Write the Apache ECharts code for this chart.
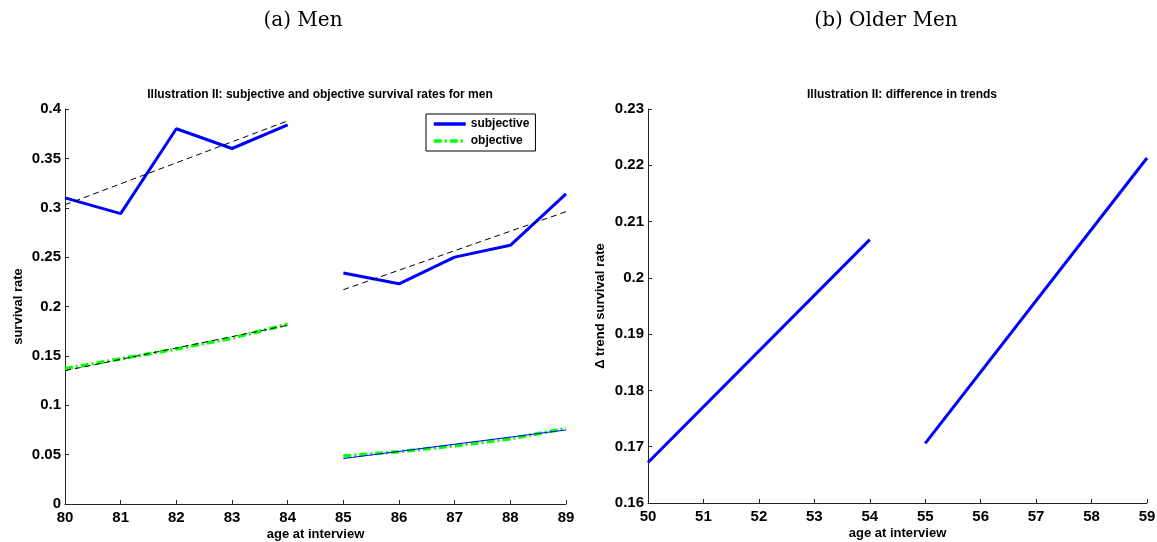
<!DOCTYPE html>
<html>
<head>
<meta charset="utf-8">
<script src="https://cdn.jsdelivr.net/npm/echarts@6/dist/echarts.min.js"></script>
<style>
  html, body { margin: 0; padding: 0; background: #fff; }
  #main { width: 1157px; height: 542px; }
</style>
</head>
<body>
<div id="main"></div>
<script>
// left panel: ages and rates
const agesA = [80, 81, 82, 83, 84];
const agesB = [85, 86, 87, 88, 89];
const subjA = [0.310, 0.294, 0.380, 0.360, 0.384];
const subjB = [0.234, 0.223, 0.250, 0.262, 0.314];
const objA = [0.137, 0.147, 0.157, 0.168, 0.182];
const objB = [0.0485, 0.053, 0.059, 0.066, 0.0765];
// fitted trends (endpoints)
const trendAgesA = [80, 84];
const trendAgesB = [85, 89];
const subjTrendA = [0.303, 0.388];
const subjTrendB = [0.217, 0.296];
const objTrendA = [0.135, 0.181];
const objTrendB = [0.046, 0.075];

// right panel: difference in trends
const diffAgesA = [50, 54];
const diffAgesB = [55, 59];
const diffA = [0.1672, 0.2068];
const diffB = [0.1706, 0.2213];

const pairs = (xs, ys) => xs.map((x, i) => [x, ys[i]]);

const font = 'Liberation Sans, Arial, sans-serif';
const axisCol = '#262626';

function xAxis(gridIndex, min, max) {
  return {
    type: 'value', gridIndex, min, max, interval: 1,
    name: 'age at interview', nameLocation: 'middle', nameGap: 24,
    nameMoveOverlap: false,
    nameTextStyle: { fontFamily: font, fontWeight: 'bold', fontSize: 13, color: '#000' },
    axisLine: { lineStyle: { color: axisCol } },
    axisTick: { inside: true, length: 4, lineStyle: { color: axisCol } },
    axisLabel: { fontFamily: font, fontWeight: 'bold', fontSize: 15, color: '#000', margin: 6 },
    splitLine: { show: false }
  };
}
function yAxis(gridIndex, min, max, interval, name, gap) {
  return {
    type: 'value', gridIndex, min, max, interval,
    name, nameLocation: 'middle', nameGap: gap,
    nameMoveOverlap: false,
    nameTextStyle: { fontFamily: font, fontWeight: 'bold', fontSize: 13, color: '#000' },
    axisLine: { show: true, lineStyle: { color: axisCol } },
    axisTick: { show: true, inside: true, length: 4, lineStyle: { color: axisCol } },
    axisLabel: { fontFamily: font, fontWeight: 'bold', fontSize: 15, color: '#000', margin: 4 },
    splitLine: { show: false }
  };
}

const blue = '#0000ff';
const green = '#00ff00';
const line = (name, xi, data, color, width, type, z) => ({
  name, type: 'line', xAxisIndex: xi, yAxisIndex: xi, data,
  symbol: 'none', silent: true, z: z || 2,
  lineStyle: { color, width, type: type || 'solid' },
  itemStyle: { color }
});

const chart = echarts.init(document.getElementById('main'), null, { renderer: 'canvas' });
chart.setOption({
  animation: false,
  backgroundColor: '#fff',
  title: [
    { text: '(a) Men', left: 298, top: 6, textAlign: 'center',
      textStyle: { fontFamily: 'DejaVu Serif, serif', fontWeight: 'normal', fontSize: 20, color: '#000' } },
    { text: '(b) Older Men', left: 881, top: 6, textAlign: 'center',
      textStyle: { fontFamily: 'DejaVu Serif, serif', fontWeight: 'normal', fontSize: 20, color: '#000' } },
    { text: 'Illustration II: subjective and objective survival rates for men', left: 315, top: 84, textAlign: 'center',
      textStyle: { fontFamily: font, fontWeight: 'bold', fontSize: 12, color: '#000' } },
    { text: 'Illustration II: difference in trends', left: 897, top: 84, textAlign: 'center',
      textStyle: { fontFamily: font, fontWeight: 'bold', fontSize: 12, color: '#000' } }
  ],
  legend: {
    data: ['subjective', 'objective'],
    orient: 'vertical', left: 426, top: 114,
    itemWidth: 32, itemHeight: 12, itemGap: 5,
    padding: [4, 6, 4, 6],
    borderColor: '#000', borderWidth: 1, backgroundColor: '#fff',
    itemStyle: { opacity: 0 },
    lineStyle: { width: 3.5 },
    textStyle: { fontFamily: font, fontWeight: 'bold', fontSize: 12, color: '#000' },
    selectedMode: false
  },
  grid: [
    { left: 65, top: 109, width: 501, height: 395, outerBoundsMode: 'none', containLabel: false },
    { left: 648, top: 109, width: 499, height: 394, outerBoundsMode: 'none', containLabel: false }
  ],
  xAxis: [xAxis(0, 80, 89), xAxis(1, 50, 59)],
  yAxis: [
    yAxis(0, 0, 0.4, 0.05, 'survival rate', 40),
    yAxis(1, 0.16, 0.23, 0.01, '\u0394 trend survival rate', 41)
  ],
  series: [
    line('subjective', 0, pairs(agesA, subjA), blue, 3, 'solid', 3),
    line('subjective', 0, pairs(agesB, subjB), blue, 3, 'solid', 3),
    line('objective', 0, pairs(agesA, objA), green, 3.5, [8, 3, 2, 3], 3),
    line('objective', 0, pairs(agesB, objB), green, 3.5, [8, 3, 2, 3], 3),
    line('subjTrend', 0, pairs(trendAgesA, subjTrendA), '#000', 1, [6, 4], 4),
    line('subjTrend', 0, pairs(trendAgesB, subjTrendB), '#000', 1, [6, 4], 4),
    line('objTrend', 0, pairs(trendAgesA, objTrendA), '#000', 1, [6, 4], 4),
    line('objTrendB', 0, pairs(trendAgesB, objTrendB), blue, 1, 'solid', 4),
    line('diff', 1, pairs(diffAgesA, diffA), blue, 3, 'solid', 3),
    line('diff', 1, pairs(diffAgesB, diffB), blue, 3, 'solid', 3)
  ]
});
</script>
</body>
</html>
